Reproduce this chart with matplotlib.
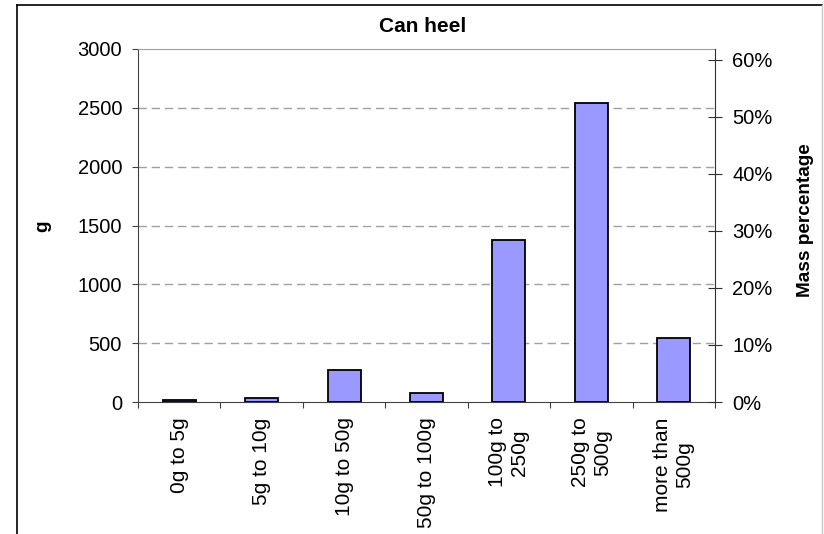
import matplotlib
matplotlib.use("Agg")
import matplotlib.pyplot as plt
from matplotlib.lines import Line2D
from matplotlib.ticker import FuncFormatter

plt.rcParams['font.family'] = ['Liberation Sans', 'DejaVu Sans']

categories = ["0g to 5g", "5g to 10g", "10g to 50g", "50g to 100g",
              "100g to\n250g", "250g to\n500g", "more than\n500g"]
mass_g = [15, 30, 270, 75, 1375, 2545, 540]
y_ticks = [0, 500, 1000, 1500, 2000, 2500, 3000]
pct_ticks = [0, 10, 20, 30, 40, 50, 60]

total = sum(mass_g)
y_max = 3000

W, H = 824, 534
fig = plt.figure(figsize=(W / 100, H / 100), dpi=100)

# chart frame
fig.add_artist(Line2D([17 / W, 17 / W], [0, 1 - 5 / H], transform=fig.transFigure,
                      color='black', linewidth=1.2))
fig.add_artist(Line2D([17 / W, 822 / W], [1 - 5 / H, 1 - 5 / H], transform=fig.transFigure,
                      color='black', linewidth=1.2))
fig.add_artist(Line2D([822 / W, 822 / W], [0, 1 - 5 / H], transform=fig.transFigure,
                      color='#C8C8C8', linewidth=1.0))

left, right, top, bottom = 138, 715, 49, 402
ax = fig.add_axes([left / W, 1 - bottom / H, (right - left) / W, (bottom - top) / H])
x = list(range(len(categories)))
ax.bar(x, mass_g, width=0.4, color='#9999FF', edgecolor='black', linewidth=1.3, zorder=3)
ax.set_xlim(-0.5, len(categories) - 0.5)
ax.set_ylim(0, y_max)
ax.set_yticks(y_ticks)
ax.set_yticklabels([str(v) for v in y_ticks], fontsize=14.5)
for v in y_ticks[1:-1]:
    ax.axhline(v, color='#A0A0A0', linestyle=(0, (6, 3.5)), linewidth=1, zorder=1)

ax.set_xticks([i + 0.5 for i in range(-1, len(categories))], minor=False)
ax.set_xticklabels([])
ax.set_xticks(x, minor=True)
ax.set_xticklabels(categories, minor=True, rotation=90, fontsize=15,
                   ha='center', va='top', multialignment='center', linespacing=1.2)
ax.tick_params(axis='x', which='minor', length=0, pad=11)
ax.tick_params(axis='x', which='major', length=4.5, direction='out', color='#404040')
ax.tick_params(axis='y', length=4.5, direction='out', color='#404040', pad=7)

for side in ['left', 'bottom']:
    ax.spines[side].set_color('#404040')
ax.spines['top'].set_color('#A0A0A0')
ax.spines['right'].set_visible(False)

fig.text(423 / W, 1 - 26 / H, 'Can heel', fontsize=15, fontweight='bold',
         ha='center', va='center')
fig.text(43 / W, 1 - 226 / H, 'g', fontsize=13.7, fontweight='bold',
         rotation=90, ha='center', va='center')
fig.text(805 / W, 1 - 220 / H, 'Mass percentage', fontsize=13.7, fontweight='bold',
         rotation=90, ha='center', va='center')

ax2 = ax.twinx()
ax2.set_ylim(0, y_max / total * 100)
ax2.set_yticks(pct_ticks)
ax2.yaxis.set_major_formatter(FuncFormatter(lambda v, p: f"{v:.0f}%"))
ax2.tick_params(axis='y', length=10, direction='inout', color='#303030', labelsize=14.5, pad=7.5)
for side in ['left', 'bottom', 'top']:
    ax2.spines[side].set_visible(False)
ax2.spines['right'].set_color('#303030')

fig.savefig('out.png', dpi=100)
